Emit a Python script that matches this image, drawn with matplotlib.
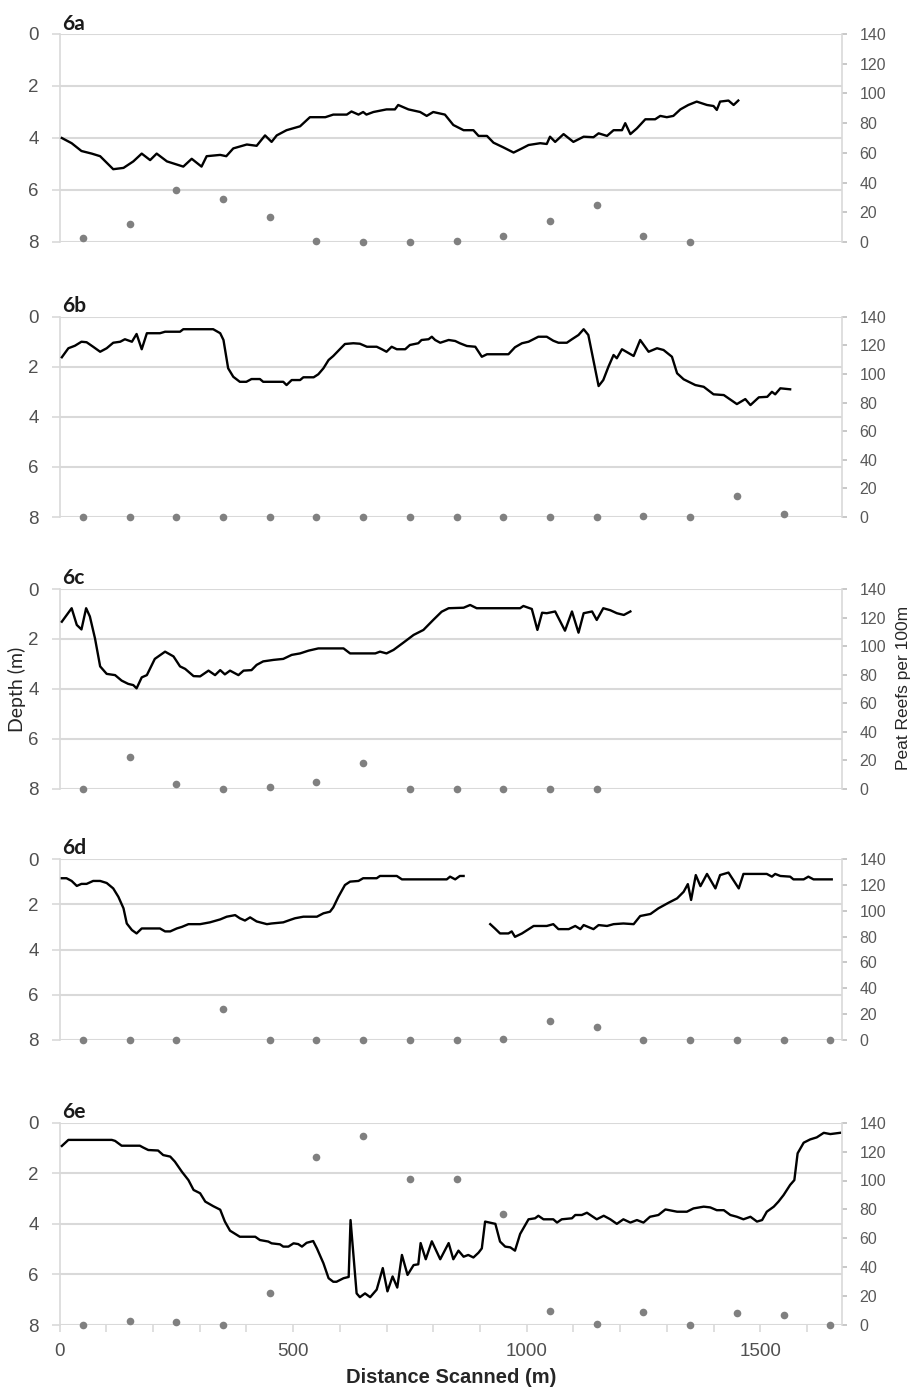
import numpy as np
import matplotlib
matplotlib.use('Agg')
import matplotlib.pyplot as plt
from matplotlib.ticker import MultipleLocator

# depth profiles (distance m, depth m)
dist_6a = [5, 26, 47, 69, 87, 115, 137, 158, 176, 194, 208, 230, 265, 283, 304, 315, 344, 357,
           372, 401, 422, 440, 454, 465, 486, 515, 536, 569, 586, 615, 625, 640, 650, 657, 672,
           700, 718, 725, 747, 772, 786, 800, 825, 843, 865, 886, 897, 915, 929, 950, 972, 990,
           1004, 1029, 1043, 1050, 1061, 1079, 1100, 1122, 1143, 1154, 1172, 1186, 1204, 1211,
           1222, 1236, 1254, 1275, 1286, 1300, 1314, 1329, 1346, 1364, 1386, 1400, 1407, 1414,
           1432, 1443, 1453]
depth_6a = [4.0, 4.2, 4.5, 4.6, 4.7, 5.2, 5.15, 4.9, 4.6, 4.85, 4.6, 4.9, 5.1, 4.8, 5.1, 4.7,
            4.65, 4.7, 4.4, 4.25, 4.3, 3.9, 4.15, 3.9, 3.7, 3.55, 3.2, 3.2, 3.1, 3.1, 2.98, 3.1,
            3.0, 3.1, 3.0, 2.9, 2.9, 2.73, 2.9, 3.0, 3.15, 3.0, 3.1, 3.5, 3.7, 3.7, 3.92, 3.92,
            4.18, 4.36, 4.56, 4.4, 4.27, 4.2, 4.23, 3.95, 4.15, 3.85, 4.15, 3.95, 3.97, 3.82,
            3.92, 3.7, 3.7, 3.43, 3.85, 3.63, 3.28, 3.28, 3.15, 3.2, 3.15, 2.9, 2.73, 2.6, 2.73,
            2.77, 2.92, 2.6, 2.56, 2.73, 2.56]

dist_6b = [5, 19, 33, 47, 58, 72, 87, 101, 115, 130, 140, 155, 165, 176, 187, 215, 226, 258,
           265, 329, 344, 351, 361, 372, 386, 400, 411, 429, 436, 479, 486, 497, 515, 522, 544,
           554, 565, 576, 586, 600, 611, 629, 643, 658, 679, 690, 700, 711, 722, 740, 750, 768,
           775, 790, 797, 804, 815, 833, 847, 857, 872, 890, 904, 915, 961, 975, 990, 1004,
           1025, 1043, 1057, 1068, 1086, 1097, 1111, 1122, 1132, 1154, 1164, 1175, 1186, 1193,
           1204, 1229, 1243, 1261, 1279, 1293, 1311, 1322, 1336, 1361, 1379, 1400, 1422, 1450,
           1468, 1479, 1497, 1515, 1525, 1532, 1543, 1564]
depth_6b = [1.62, 1.26, 1.16, 1.0, 1.02, 1.2, 1.4, 1.26, 1.04, 1.0, 0.9, 1.0, 0.69, 1.3, 0.66,
            0.66, 0.6, 0.6, 0.5, 0.5, 0.66, 0.93, 2.06, 2.4, 2.6, 2.6, 2.49, 2.49, 2.6, 2.6,
            2.73, 2.53, 2.53, 2.42, 2.42, 2.3, 2.06, 1.73, 1.57, 1.3, 1.09, 1.06, 1.08, 1.2, 1.2,
            1.3, 1.4, 1.2, 1.3, 1.3, 1.13, 1.06, 0.93, 0.9, 0.8, 0.93, 1.04, 0.93, 0.97, 1.06,
            1.17, 1.2, 1.6, 1.5, 1.5, 1.22, 1.06, 1.0, 0.8, 0.8, 0.96, 1.04, 1.04, 0.9, 0.73,
            0.5, 0.73, 2.77, 2.53, 2.0, 1.53, 1.66, 1.3, 1.57, 0.93, 1.4, 1.26, 1.33, 1.6, 2.26,
            2.5, 2.73, 2.8, 3.1, 3.13, 3.49, 3.29, 3.53, 3.22, 3.2, 3.0, 3.1, 2.86, 2.9]

dist_6c = [5, 26, 37, 47, 57, 65, 76, 87, 101, 119, 133, 147, 158, 165, 176, 187, 204, 226, 244,
           258, 269, 287, 301, 319, 333, 344, 354, 365, 383, 394, 411, 422, 436, 458, 479, 497,
           515, 533, 554, 608, 622, 676, 686, 700, 715, 736, 758, 779, 800, 818, 833, 865, 879,
           893, 986, 993, 1011, 1023, 1033, 1043, 1061, 1082, 1097, 1111, 1122, 1140, 1150,
           1164, 1179, 1193, 1208, 1222]
depth_6c = [1.31, 0.77, 1.44, 1.62, 0.77, 1.1, 1.98, 3.1, 3.4, 3.45, 3.67, 3.8, 3.85, 3.98,
            3.54, 3.45, 2.8, 2.51, 2.7, 3.1, 3.2, 3.49, 3.5, 3.27, 3.45, 3.25, 3.42, 3.27, 3.45,
            3.27, 3.25, 3.04, 2.9, 2.84, 2.8, 2.64, 2.58, 2.47, 2.38, 2.38, 2.58, 2.58, 2.51,
            2.58, 2.44, 2.15, 1.84, 1.64, 1.24, 0.91, 0.77, 0.75, 0.64, 0.77, 0.77, 0.68, 0.8,
            1.64, 0.95, 0.97, 0.9, 1.67, 0.9, 1.75, 0.97, 0.9, 1.24, 0.77, 0.85, 0.97, 1.04, 0.9]

# nan marks the gap in the 6d scan
dist_6d = [5, 15, 26, 37, 47, 58, 72, 87, 101, 115, 126, 137, 144, 155, 165, 176, 215, 226, 237,
           251, 262, 276, 301, 322, 344, 358, 376, 386, 397, 408, 422, 444, 454, 479, 494, 504,
           522, 551, 565, 579, 586, 597, 611, 622, 640, 650, 679, 686, 722, 733, 829, 836, 847,
           857, 865, 893,
           922, 932, 943, 961, 968, 975, 990, 1015, 1043, 1057, 1068, 1090, 1104, 1115, 1122,
           1143, 1154, 1172, 1186, 1207, 1229, 1243, 1265, 1282, 1304, 1322, 1336, 1345, 1352,
           1362, 1372, 1386, 1404, 1414, 1432, 1454, 1464, 1514, 1525, 1532, 1543, 1564, 1571,
           1593, 1603, 1614, 1653]
depth_6d = [0.85, 0.85, 0.97, 1.19, 1.1, 1.1, 0.97, 0.97, 1.06, 1.3, 1.67, 2.18, 2.85, 3.14,
            3.29, 3.07, 3.07, 3.2, 3.2, 3.07, 3.0, 2.88, 2.88, 2.8, 2.67, 2.55, 2.48, 2.62, 2.72,
            2.58, 2.76, 2.88, 2.85, 2.8, 2.69, 2.62, 2.55, 2.55, 2.4, 2.33, 2.14, 1.67, 1.15, 1.0,
            0.97, 0.85, 0.85, 0.75, 0.75, 0.9, 0.9, 0.78, 0.9, 0.75, 0.75, np.nan,
            2.88, 3.07, 3.29, 3.29, 3.2, 3.44, 3.29, 2.96, 2.96, 2.88, 3.1, 3.1, 2.96, 3.1, 2.92,
            3.1, 2.92, 2.96, 2.88, 2.85, 2.88, 2.52, 2.43, 2.18, 1.93, 1.74, 1.45, 1.11, 1.81,
            0.71, 1.2, 0.66, 1.3, 0.71, 0.6, 1.3, 0.66, 0.66, 0.78, 0.66, 0.75, 0.78, 0.9, 0.9,
            0.78, 0.9, 0.9]

dist_6e = [5, 19, 112, 119, 133, 172, 179, 190, 211, 222, 237, 247, 262, 276, 287, 301, 312, 329,
           344, 354, 365, 386, 419, 429, 447, 454, 472, 479, 490, 501, 511, 519, 529, 543, 551,
           565, 576, 586, 593, 608, 619, 623, 636, 643, 654, 665, 679, 692, 702, 713, 723, 733,
           745, 758, 768, 773, 784, 797, 815, 833, 843, 854, 865, 875, 886, 897, 904, 911, 933,
           943, 954, 965, 975, 986, 1004, 1018, 1025, 1036, 1057, 1065, 1075, 1097, 1104, 1118,
           1129, 1150, 1165, 1179, 1193, 1207, 1222, 1236, 1250, 1264, 1282, 1297, 1322, 1343,
           1357, 1379, 1393, 1407, 1422, 1436, 1450, 1464, 1479, 1493, 1504, 1514, 1529, 1539,
           1550, 1564, 1573, 1580, 1593, 1607, 1621, 1636, 1650, 1671]
depth_6e = [0.92, 0.68, 0.68, 0.72, 0.91, 0.91, 0.98, 1.08, 1.1, 1.28, 1.34, 1.54, 1.94, 2.27,
            2.66, 2.79, 3.12, 3.3, 3.44, 3.91, 4.27, 4.51, 4.51, 4.64, 4.7, 4.77, 4.81, 4.9, 4.9,
            4.77, 4.8, 4.9, 4.75, 4.68, 4.97, 5.56, 6.15, 6.29, 6.29, 6.15, 6.1, 3.85, 6.75, 6.9,
            6.75, 6.9, 6.6, 5.75, 6.67, 6.08, 6.52, 5.23, 6.02, 5.63, 5.6, 4.76, 5.4, 4.69, 5.4,
            4.76, 5.4, 5.06, 5.3, 5.23, 5.33, 5.14, 4.97, 3.91, 4.0, 4.7, 4.9, 4.93, 5.06, 4.4,
            3.82, 3.78, 3.68, 3.82, 3.82, 3.95, 3.82, 3.78, 3.65, 3.65, 3.56, 3.82, 3.68, 3.82,
            4.0, 3.82, 3.95, 3.85, 3.95, 3.72, 3.65, 3.43, 3.52, 3.52, 3.39, 3.32, 3.35, 3.46,
            3.46, 3.65, 3.72, 3.82, 3.72, 3.91, 3.85, 3.52, 3.32, 3.12, 2.86, 2.46, 2.27, 1.21,
            0.79, 0.66, 0.58, 0.4, 0.45, 0.4]

# peat reefs per 100 m, counted in 100 m bins
reef_x = [50, 150, 250, 350, 450, 550, 650, 750, 850, 950, 1050, 1150, 1250, 1350, 1450, 1550, 1650]
reef_6a = [3, 12, 35, 29, 17, 1, 0, 0, 1, 4, 14, 25, 4, 0]
reef_6b = [0, 0, 0, 0, 0, 0, 0, 0, 0, 0, 0, 0, 1, 0, 15, 2]
reef_6c = [0, 22, 3, 0, 1, 5, 18, 0, 0, 0, 0, 0]
reef_6d = [0, 0, 0, 24, 0, 0, 0, 0, 0, 1, 15, 10, 0, 0, 0, 0, 0]
reef_6e = [0, 3, 2, 0, 22, 116, 131, 101, 101, 77, 10, 1, 9, 0, 8, 7, 0]

panels = [
    ("6a", dist_6a, depth_6a, reef_6a),
    ("6b", dist_6b, depth_6b, reef_6b),
    ("6c", dist_6c, depth_6c, reef_6c),
    ("6d", dist_6d, depth_6d, reef_6d),
    ("6e", dist_6e, depth_6e, reef_6e),
]

# pixel rows (top, bottom) of each panel in the 913x1391 picture
rows = [(34, 242), (316.7, 517), (589, 788.7), (859, 1040), (1122.7, 1325)]

W, H = 913, 1391
fig = plt.figure(figsize=(W / 100, H / 100), dpi=100)
fig.patch.set_facecolor('white')

grid_c = '#d9d9d9'
label_c = '#595959'
left, right = 59.5, 842

for i, (name, dist, depth, reef) in enumerate(panels):
    top, bot = rows[i]
    ax = fig.add_axes([left / W, 1 - bot / H, (right - left) / W, (bot - top) / H])
    ax.set_xlim(0, 1675)
    ax.set_ylim(8, 0)
    ax.set_yticks([0, 2, 4, 6, 8])
    ax.yaxis.grid(True, color=grid_c, lw=1.5, zorder=0)
    ax.set_axisbelow(True)
    for s in ['top', 'right', 'bottom']:
        ax.spines[s].set_visible(False)
    ax.spines['left'].set_color(grid_c)
    ax.spines['left'].set_linewidth(1.2)
    ax.tick_params(axis='y', length=6, width=1.2, color=grid_c, labelsize=13.5,
                   labelcolor='#505050', pad=9)
    for t in ax.get_yticklabels():
        t.set_family('Liberation Sans')

    ax.plot(dist, depth, color='black', lw=1.7, zorder=3, solid_joinstyle='round')

    ax2 = ax.twinx()
    ax2.set_ylim(0, 140)
    ax2.yaxis.set_major_locator(MultipleLocator(20))
    for s in ['top', 'left', 'bottom']:
        ax2.spines[s].set_visible(False)
    ax2.spines['right'].set_color(grid_c)
    ax2.spines['right'].set_linewidth(1.2)
    ax2.tick_params(axis='y', length=3.5, width=1.2, color='#bfbfbf', labelsize=11.5,
                    labelcolor=label_c, pad=9)
    for t in ax2.get_yticklabels():
        t.set_family('Liberation Sans')
    ax2.plot(reef_x[:len(reef)], reef, 'o', color='#808080', ms=5.5, mec='none',
             clip_on=False, zorder=4)

    fig.text(62 / W, 1 - (top - 4.5) / H, name, fontsize=15, fontweight='bold',
             family='Lato', va='baseline', ha='left', color='#1a1a1a')

    if i == len(panels) - 1:
        ax.set_xticks([0, 500, 1000, 1500])
        ax.xaxis.set_minor_locator(MultipleLocator(100))
        ax.tick_params(axis='x', which='both', length=5, width=1.2, color=grid_c,
                       labelsize=13.5, labelcolor='#505050', pad=8)
        for t in ax.get_xticklabels():
            t.set_family('Liberation Sans')
        ax.set_xlabel('Distance Scanned (m)', fontsize=14.5, fontweight='bold',
                      family='Liberation Sans', color='#262626', labelpad=6)
    else:
        ax.set_xticks([])

fig.text(17 / W, 1 - 689 / H, 'Depth (m)', rotation=90, fontsize=14, family='Lato',
         color='#262626', ha='center', va='center')
fig.text(903 / W, 1 - 688 / H, 'Peat Reefs per 100m', rotation=90, fontsize=12.5,
         family='Liberation Sans', color='#262626', ha='center', va='center')

fig.savefig('out.png', dpi=100, facecolor='white')
